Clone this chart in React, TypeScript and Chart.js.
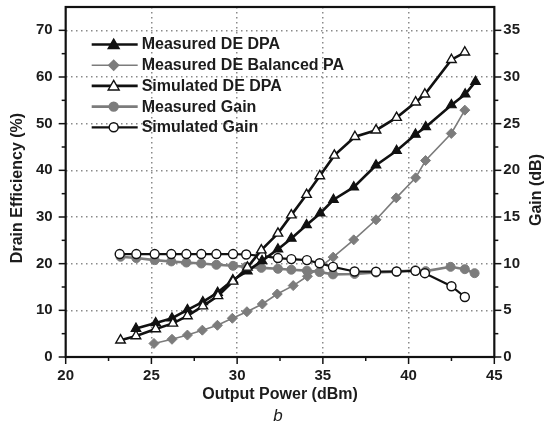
import React, { useEffect, useRef } from 'react';
import { Chart, registerables } from 'chart.js';

Chart.register(...registerables);

// ---------- data ----------
const measDeDpaX = [24.1, 25.25, 26.2, 27.1, 28.0, 28.86, 29.75, 30.6, 31.45, 32.38, 33.16, 34.05, 34.85, 35.62, 36.8, 38.1, 39.3, 40.4, 41.0, 42.5, 43.3, 43.9];
const measDeDpaY = [6.1, 7.3, 8.3, 10.1, 11.8, 13.8, 16.5, 18.4, 20.6, 23.1, 25.4, 28.3, 30.8, 33.7, 36.4, 41.1, 44.2, 47.7, 49.3, 54.0, 56.3, 59.0];

const balPaX = [25.15, 26.2, 27.1, 27.97, 28.85, 29.72, 30.57, 31.47, 32.34, 33.27, 34.1, 35.6, 36.8, 38.1, 39.28, 40.41, 40.99, 42.49, 43.28];
const balPaY = [2.9, 3.8, 4.7, 5.75, 6.8, 8.3, 9.7, 11.35, 13.5, 15.3, 17.3, 21.4, 25.1, 29.4, 34.1, 38.4, 42.1, 47.9, 52.9];

const simDeDpaX = [23.2, 24.1, 25.25, 26.25, 27.1, 28.0, 28.88, 29.76, 30.6, 31.41, 32.38, 33.16, 34.05, 34.82, 35.67, 36.87, 38.1, 39.3, 40.41, 40.95, 42.5, 43.28];
const simDeDpaY = [3.6, 4.5, 6.0, 7.2, 8.8, 10.9, 13.1, 16.2, 19.2, 22.9, 26.5, 30.4, 34.8, 38.8, 43.2, 47.2, 48.6, 51.3, 54.6, 56.3, 63.7, 65.3];

const measGainX = [23.2, 24.12, 25.19, 26.16, 27.04, 27.91, 28.79, 29.76, 30.53, 31.41, 32.38, 33.16, 34.07, 34.81, 35.59, 36.85, 38.1, 39.3, 40.4, 41.0, 42.45, 43.28, 43.85];
const measGainY = [10.74, 10.6, 10.38, 10.24, 10.12, 10.02, 9.88, 9.77, 9.66, 9.55, 9.45, 9.35, 9.25, 9.1, 8.85, 8.9, 9.05, 9.15, 9.3, 9.2, 9.66, 9.41, 8.98];

const simGainX = [23.15, 24.12, 25.19, 26.16, 27.04, 27.91, 28.79, 29.76, 30.53, 31.41, 32.38, 33.16, 34.07, 34.81, 35.59, 36.85, 38.1, 39.3, 40.4, 40.95, 42.5, 43.28];
const simGainY = [11.03, 11.03, 11.03, 11.03, 11.03, 11.03, 11.03, 11.03, 10.98, 10.84, 10.6, 10.49, 10.38, 10.05, 9.66, 9.16, 9.14, 9.16, 9.23, 8.98, 7.58, 6.43];

const seriesNames = ['Measured DE DPA', 'Measured DE Balanced PA', 'Simulated DE DPA', 'Measured Gain', 'Simulated Gain'];

const xMajorTicks = [20, 25, 30, 35, 40, 45];
const xMinorTicks = [22.5, 27.5, 32.5, 37.5, 42.5];
const yLeftMajorTicks = [0, 10, 20, 30, 40, 50, 60, 70];
const yLeftMinorTicks = [5, 15, 25, 35, 45, 55, 65];
const yRightMajorTicks = [0, 5, 10, 15, 20, 25, 30, 35];
const yRightMinorTicks = [2.5, 7.5, 12.5, 17.5, 22.5, 27.5, 32.5];

const xTitle = 'Output Power (dBm)';
const yLeftTitle = 'Drain Efficiency (%)';
const yRightTitle = 'Gain (dB)';
const panelLabel = 'b';

const FONT = "'Liberation Sans', Arial, Helvetica, sans-serif";
const BLACK = '#111111';
const GRAY = '#7c7c7c';
const TEXT = '#1c1c1c';
const SHIFT = 8; // canvas is shifted up by this many px

const pts = (xs: number[], ys: number[]) => xs.map((x, i) => ({ x, y: ys[i] }));

const legendStyles = [
  { line: BLACK, lw: 2.6, marker: 'triangle', fill: BLACK, stroke: BLACK, r: 5.5 },
  { line: GRAY, lw: 1.6, marker: 'diamond', fill: GRAY, stroke: GRAY, r: 5 },
  { line: BLACK, lw: 2.6, marker: 'triangle', fill: '#ffffff', stroke: BLACK, r: 5.5 },
  { line: GRAY, lw: 2.6, marker: 'circle', fill: GRAY, stroke: GRAY, r: 4.5 },
  { line: BLACK, lw: 2.2, marker: 'circle', fill: '#ffffff', stroke: BLACK, r: 4.5 },
];

function drawMarker(ctx: CanvasRenderingContext2D, kind: string, x: number, y: number, r: number, fill: string, stroke: string) {
  ctx.beginPath();
  if (kind === 'triangle') {
    const h = r * 1.5;
    ctx.moveTo(x, y - h * 0.66);
    ctx.lineTo(x + r, y + h * 0.5);
    ctx.lineTo(x - r, y + h * 0.5);
    ctx.closePath();
  } else if (kind === 'diamond') {
    ctx.moveTo(x, y - r);
    ctx.lineTo(x + r, y);
    ctx.lineTo(x, y + r);
    ctx.lineTo(x - r, y);
    ctx.closePath();
  } else {
    ctx.arc(x, y, r, 0, Math.PI * 2);
  }
  ctx.fillStyle = fill;
  ctx.fill();
  ctx.lineWidth = 1.4;
  ctx.strokeStyle = stroke;
  ctx.stroke();
}

const decorPlugin = {
  id: 'decor',
  afterDraw(chart: any) {
    const { ctx, chartArea: a, scales } = chart;
    const xs = scales.x, yl = scales.y, yr = scales.y2;
    ctx.save();
    ctx.strokeStyle = BLACK;
    ctx.lineWidth = 1.5;
    const seg = (x1: number, y1: number, x2: number, y2: number) => {
      ctx.beginPath(); ctx.moveTo(x1, y1); ctx.lineTo(x2, y2); ctx.stroke();
    };
    xMajorTicks.forEach(v => { const p = xs.getPixelForValue(v); seg(p, a.bottom, p, a.bottom + 7); });
    xMinorTicks.forEach(v => { const p = xs.getPixelForValue(v); seg(p, a.bottom, p, a.bottom + 4); });
    yLeftMajorTicks.forEach(v => { const p = yl.getPixelForValue(v); seg(a.left, p, a.left - 7, p); });
    yLeftMinorTicks.forEach(v => { const p = yl.getPixelForValue(v); seg(a.left, p, a.left - 4, p); });
    yRightMajorTicks.forEach(v => { const p = yr.getPixelForValue(v); seg(a.right, p, a.right + 7, p); });
    yRightMinorTicks.forEach(v => { const p = yr.getPixelForValue(v); seg(a.right, p, a.right + 4, p); });
    ctx.lineWidth = 2.2;
    ctx.strokeRect(a.left, a.top, a.right - a.left, a.bottom - a.top);

    ctx.fillStyle = TEXT;
    ctx.font = `bold 16px ${FONT}`;
    ctx.textAlign = 'center';
    ctx.textBaseline = 'middle';
    ctx.fillText(xTitle, (a.left + a.right) / 2, 395 + SHIFT);
    ctx.save();
    ctx.translate(18, 188 + SHIFT);
    ctx.rotate(-Math.PI / 2);
    ctx.fillText(yLeftTitle, 0, 0);
    ctx.restore();
    ctx.save();
    ctx.translate(537, 190 + SHIFT);
    ctx.rotate(-Math.PI / 2);
    ctx.fillText(yRightTitle, 0, 0);
    ctx.restore();
    ctx.font = `italic 17px ${FONT}`;
    ctx.fillText(panelLabel, (a.left + a.right) / 2 - 2, 416 + SHIFT);

    const lx1 = a.left + 26, lx2 = a.left + 72, mx = a.left + 48, tx = a.left + 76;
    seriesNames.forEach((name, i) => {
      const s = legendStyles[i];
      const cy = a.top + 37.5 + i * 20.7;
      ctx.strokeStyle = s.line;
      ctx.lineWidth = s.lw;
      seg(lx1, cy, lx2, cy);
      drawMarker(ctx, s.marker, mx, cy, s.r, s.fill, s.stroke);
      ctx.fillStyle = TEXT;
      ctx.font = `bold 16px ${FONT}`;
      ctx.textAlign = 'left';
      ctx.textBaseline = 'middle';
      ctx.fillText(name, tx, cy + 0.5);
    });
    ctx.restore();
  },
};

export default function App() {
  const ref = useRef<HTMLCanvasElement | null>(null);
  useEffect(() => {
    if (!ref.current) return;
    const gridColor = (ctx: any, vals: number[]) =>
      ctx.tick && vals.includes(ctx.tick.value) ? '#8a8a8a' : 'transparent';
    const chart = new Chart(ref.current, {
      type: 'line',
      data: {
        datasets: [
          {
            label: seriesNames[0], data: pts(measDeDpaX, measDeDpaY), yAxisID: 'y', order: 1,
            borderColor: BLACK, borderWidth: 2.6, backgroundColor: BLACK,
            pointStyle: 'triangle', pointRadius: 5.5, pointBackgroundColor: BLACK, pointBorderColor: BLACK, pointBorderWidth: 1.2,
          },
          {
            label: seriesNames[1], data: pts(balPaX, balPaY), yAxisID: 'y', order: 4,
            borderColor: GRAY, borderWidth: 1.6, backgroundColor: GRAY,
            pointStyle: 'rectRot', pointRadius: 5, pointBackgroundColor: GRAY, pointBorderColor: GRAY, pointBorderWidth: 1,
          },
          {
            label: seriesNames[2], data: pts(simDeDpaX, simDeDpaY), yAxisID: 'y', order: 0,
            borderColor: BLACK, borderWidth: 2.6, backgroundColor: '#fff',
            pointStyle: 'triangle', pointRadius: 5.5, pointBackgroundColor: '#ffffff', pointBorderColor: BLACK, pointBorderWidth: 1.4,
          },
          {
            label: seriesNames[3], data: pts(measGainX, measGainY), yAxisID: 'y2', order: 3,
            borderColor: GRAY, borderWidth: 2.6, backgroundColor: GRAY,
            pointStyle: 'circle', pointRadius: 4.5, pointBackgroundColor: GRAY, pointBorderColor: GRAY, pointBorderWidth: 1,
          },
          {
            label: seriesNames[4], data: pts(simGainX, simGainY), yAxisID: 'y2', order: 2,
            borderColor: BLACK, borderWidth: 2.2, backgroundColor: '#fff',
            pointStyle: 'circle', pointRadius: 4.5, pointBackgroundColor: '#ffffff', pointBorderColor: BLACK, pointBorderWidth: 1.4,
          },
        ],
      },
      options: {
        animation: false,
        responsive: true,
        maintainAspectRatio: false,
        layout: { padding: { top: 0, left: 30, right: 22, bottom: 38 } },
        plugins: { legend: { display: false }, tooltip: { enabled: false } },
        scales: {
          x: {
            type: 'linear', min: 20, max: 45,
            ticks: {
              stepSize: 5, autoSkip: false, maxRotation: 0, padding: 3,
              color: TEXT, font: { size: 15, weight: 'bold', family: FONT },
              callback: (v: any) => (xMajorTicks.includes(v) ? String(v) : ''),
            },
            grid: {
              color: (c: any) => gridColor(c, [25, 30, 35, 40]), lineWidth: 1.5,
              tickLength: 7, tickColor: 'transparent',
            },
            border: { display: false, dash: [1.5, 3.5] },
          },
          y: {
            type: 'linear', position: 'left', min: 0, max: 75,
            ticks: {
              stepSize: 10, autoSkip: false, padding: 6,
              color: TEXT, font: { size: 15, weight: 'bold', family: FONT },
              callback: (v: any) => (yLeftMajorTicks.includes(v) ? String(v) : ''),
            },
            grid: {
              color: (c: any) => gridColor(c, [10, 20, 30, 40, 50, 60, 70]), lineWidth: 1.5,
              tickLength: 7, tickColor: 'transparent',
            },
            border: { display: false, dash: [1.5, 3.5] },
          },
          y2: {
            type: 'linear', position: 'right', min: 0, max: 37.5,
            ticks: {
              stepSize: 5, autoSkip: false, padding: 2,
              color: TEXT, font: { size: 15, weight: 'bold', family: FONT },
              callback: (v: any) => (yRightMajorTicks.includes(v) ? String(v) : ''),
            },
            grid: { drawOnChartArea: false, tickLength: 7, tickColor: 'transparent' },
            border: { display: false },
          },
        },
      },
      plugins: [decorPlugin],
    } as any);
    return () => chart.destroy();
  }, []);
  return (
    <div style={{ position: 'fixed', left: 0, top: -SHIFT, width: 544, height: 426 + SHIFT, background: '#fff' }}>
      <canvas ref={ref} />
    </div>
  );
}
